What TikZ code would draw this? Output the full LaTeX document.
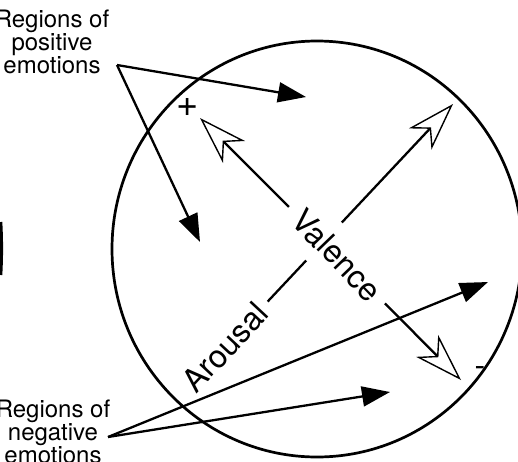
\documentclass[tikz,border=0pt]{standalone}
\usepackage{fontspec}
\setmainfont{TeX Gyre Heros}
\usetikzlibrary{arrows.meta}
\begin{document}
\begin{tikzpicture}[x=1pt,y=-1pt,
  regionlabel/.style={align=center, inner sep=0pt, font=\fontsize{24}{23}\selectfont},
  axislabel/.style={font=\fontsize{32}{32}\selectfont},
  axisline/.style={line width=2.3pt, -{Stealth[length=48pt,width=31pt,inset=14pt,open,line width=1.4pt]}},
  regionarrow/.style={line width=2.3pt, -{Triangle[length=28pt,width=20pt]}},
  signmark/.style={inner sep=0pt}
]
\useasboundingbox (0,0) rectangle (518,461);

% circle
\draw[line width=2.7pt] (317,249) ellipse [x radius=205, y radius=208];
% edge of neighbouring figure
\draw[line width=3pt] (0.8,222) .. controls (1.8,240) and (1.8,257) .. (0.8,275);

% coordinates
\coordinate (posorigin) at (117,65);
\coordinate (posA) at (306,97);
\coordinate (posB) at (200,242);
\coordinate (negorigin) at (108,437);
\coordinate (negA) at (488,282);
\coordinate (negB) at (390,392);
\coordinate (vtop) at (200,118);
\coordinate (vbot) at (461,380);
\coordinate (atop) at (453,104);

% axes
\node[axislabel, rotate=47, inner sep=8pt] (arousal) at (225,347) {Arousal};
\draw[axisline] (arousal) -- (atop);
\node[axislabel, rotate=-46, fill=white, inner xsep=11pt, inner ysep=14pt] (valence) at (337,255) {Valence};
\draw[axisline] (valence) -- (vtop);
\draw[axisline] (valence) -- (vbot);

\node[signmark, font=\fontsize{38}{38}\selectfont] (plus) at (188,107) {+};
\node[signmark, font=\fontsize{32}{32}\selectfont] (minus) at (480,371.5) {-};

% region labels
\node[regionlabel, anchor=north] (poslabel) at (52,10) {Regions of\\positive\\emotions};
\node[regionlabel, anchor=north] (neglabel) at (53,400) {Regions of\\negative\\emotions};

\draw[regionarrow] (posorigin) -- (posA);
\draw[regionarrow] (posorigin) -- (posB);
\draw[regionarrow] (negorigin) -- (negA);
\draw[regionarrow] (negorigin) -- (negB);
\end{tikzpicture}
\end{document}
